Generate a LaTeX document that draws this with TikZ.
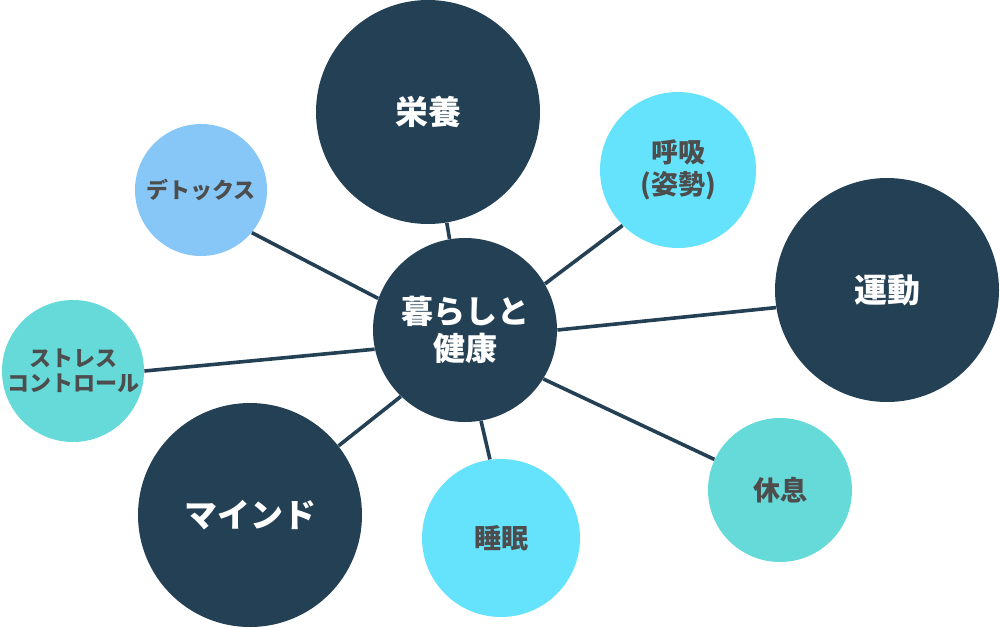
\documentclass[tikz,border=0pt]{standalone}
\usepackage{fontspec}
\setmainfont{Noto Sans CJK JP}

\definecolor{navy}{RGB}{35,64,84}
\definecolor{sora}{RGB}{135,199,247}
\definecolor{mizu}{RGB}{102,227,252}
\definecolor{midori}{RGB}{102,218,217}
\definecolor{moji}{RGB}{77,77,77}

\begin{document}
\begin{tikzpicture}[x=0.5pt, y=-0.5pt,
        big/.style={circle, fill=navy, text=white, inner sep=0pt, align=center,
            font=\bfseries\fontsize{16.5}{18.5}\selectfont},
        small/.style={circle, text=moji, inner sep=0pt, align=center,
            font=\bfseries\fontsize{13.5}{16}\selectfont},
        kana/.style={small, font=\bfseries\fontsize{11}{12.5}\selectfont},
        link/.style={navy, line width=1.8pt}]
        \useasboundingbox (0,0) rectangle (1000,627);

        \node[big, minimum size=92pt, font=\bfseries\fontsize{16}{18.5}\selectfont] (kenko) at (465,330) {暮らしと\\健康};

        \node[big, minimum size=112pt] (eiyo) at (428,112) {栄養};
        \node[big, minimum size=112pt] (undo) at (887,290) {運動};
        \node[big, minimum size=112pt] (mind) at (250,515) {マインド};

        \node[small, fill=mizu, minimum size=78pt] (kokyu) at (678,170) {呼吸\\(姿勢)};
        \node[small, fill=mizu, minimum size=79pt] (suimin) at (501,538) {睡眠};
        \node[small, fill=midori, minimum size=72pt] (kyusoku) at (780,490) {休息};
        \node[kana, fill=sora, minimum size=66pt] (detox) at (201,190) {デトックス};
        \node[kana, fill=midori, minimum size=71pt] (stress) at (73,371) {ストレス\\コントロール};

        \draw[link] (kenko) -- (eiyo);
        \draw[link] (kenko.30) -- (kokyu.-135);
        \draw[link] (kenko.0) -- (undo.189);
        \draw[link] (kenko.-32) -- (kyusoku.155);
        \draw[link] (kenko.-80) -- (suimin.98);
        \draw[link] (kenko.226) -- (mind.38);
        \draw[link] (kenko.192) -- (stress.0);
        \draw[link] (kenko.160) -- (detox.-40);
    \end{tikzpicture}
\end{document}
